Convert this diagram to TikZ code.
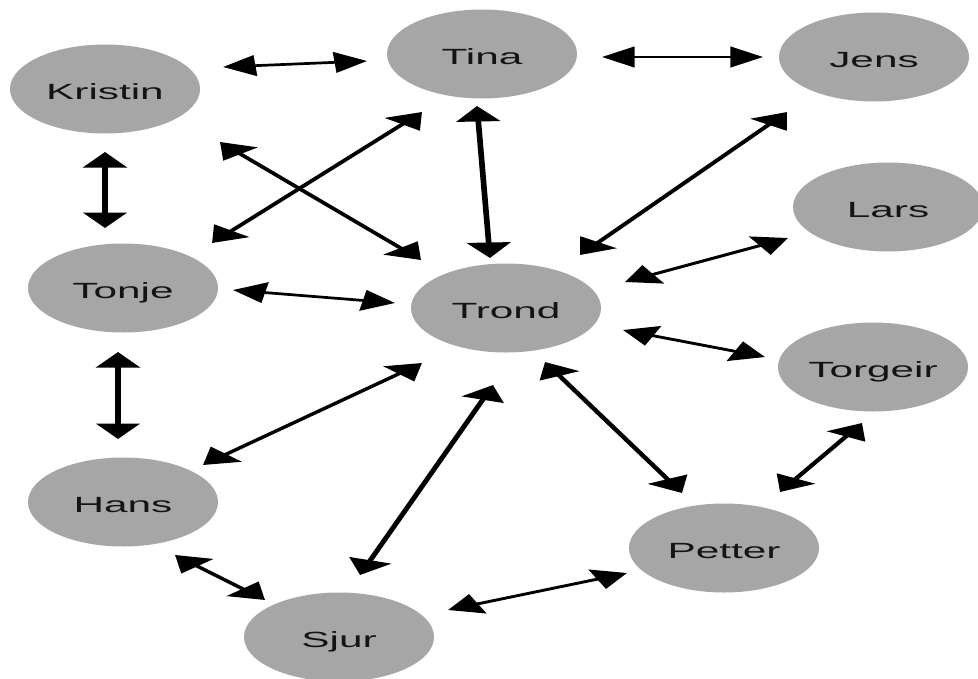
\documentclass[tikz,border=0pt]{standalone}
\usepackage{fontspec}
\newfontfamily\lblfont[FakeStretch=0.916]{Liberation Sans}
\usetikzlibrary{arrows.meta,shapes.geometric}
\definecolor{nodegray}{HTML}{A6A6A6}
\definecolor{txtcol}{HTML}{141414}
\begin{document}
\begin{tikzpicture}
\useasboundingbox (0,0) rectangle (978pt,-678pt);
\begin{scope}[transform canvas={xscale=2.1}, x=0.47619pt, y=-1pt,
  person/.style={ellipse, fill=nodegray, minimum width=90.5pt, minimum height=89pt,
    inner sep=0pt, text height=21pt, text depth=0pt,
    font=\lblfont\fontsize{22}{26}\selectfont, text=txtcol},
  link/.style={{Triangle[length=15.5pt,width=20.5pt]}-{Triangle[length=15.5pt,width=20.5pt]},
    line width=2.7pt, black}]
% people
\node[person] (kristin) at (105,89)  {Kristin};
\node[person] (tina)    at (482,54)  {Tina};
\node[person] (jens)    at (874,57)  {Jens};
\node[person] (lars)    at (888,207) {Lars};
\node[person] (tonje)   at (123,288) {Tonje};
\node[person] (trond)   at (506,308) {Trond};
\node[person] (torgeir) at (873,367) {Torgeir};
\node[person] (hans)    at (123,502) {Hans};
\node[person] (petter)  at (724,548) {Petter};
\node[person] (sjur)    at (339,637) {Sjur};
% arrow end points
\coordinate (kt1) at (223,67);  \coordinate (kt2) at (367,61);
\coordinate (tj1) at (602,57);  \coordinate (tj2) at (763,57);
\coordinate (ko1) at (105,152); \coordinate (ko2) at (105,228);
\coordinate (kr1) at (220,142); \coordinate (kr2) at (421,260);
\coordinate (oi1) at (212,243); \coordinate (oi2) at (422,112);
\coordinate (ir1) at (477,106); \coordinate (ir2) at (490,258);
\coordinate (jr1) at (787,112); \coordinate (jr2) at (580,255);
\coordinate (lr1) at (788,238); \coordinate (lr2) at (625,282);
\coordinate (rg1) at (623,330); \coordinate (rg2) at (765,357);
\coordinate (or1) at (233,290); \coordinate (or2) at (395,303);
\coordinate (oh1) at (118,352); \coordinate (oh2) at (118,439);
\coordinate (hr1) at (203,465); \coordinate (hr2) at (422,363);
\coordinate (rs1) at (493,385); \coordinate (rs2) at (360,575);
\coordinate (hs1) at (175,555); \coordinate (hs2) at (265,600);
\coordinate (sp1) at (448,610); \coordinate (sp2) at (627,573);
\coordinate (rp1) at (545,362); \coordinate (rp2) at (682,493);
\coordinate (pg1) at (780,492); \coordinate (pg2) at (862,423);
% connectors
\draw[link] (kt1) -- (kt2);
\draw[link] (tj1) -- (tj2);
\draw[link] (ko1) -- (ko2);
\draw[link] (kr1) -- (kr2);
\draw[link] (oi1) -- (oi2);
\draw[link] (ir1) -- (ir2);
\draw[link] (jr1) -- (jr2);
\draw[link] (lr1) -- (lr2);
\draw[link] (rg1) -- (rg2);
\draw[link] (or1) -- (or2);
\draw[link] (oh1) -- (oh2);
\draw[link] (hr1) -- (hr2);
\draw[link] (rs1) -- (rs2);
\draw[link] (hs1) -- (hs2);
\draw[link] (sp1) -- (sp2);
\draw[link] (rp1) -- (rp2);
\draw[link] (pg1) -- (pg2);
\end{scope}
\end{tikzpicture}
\end{document}
